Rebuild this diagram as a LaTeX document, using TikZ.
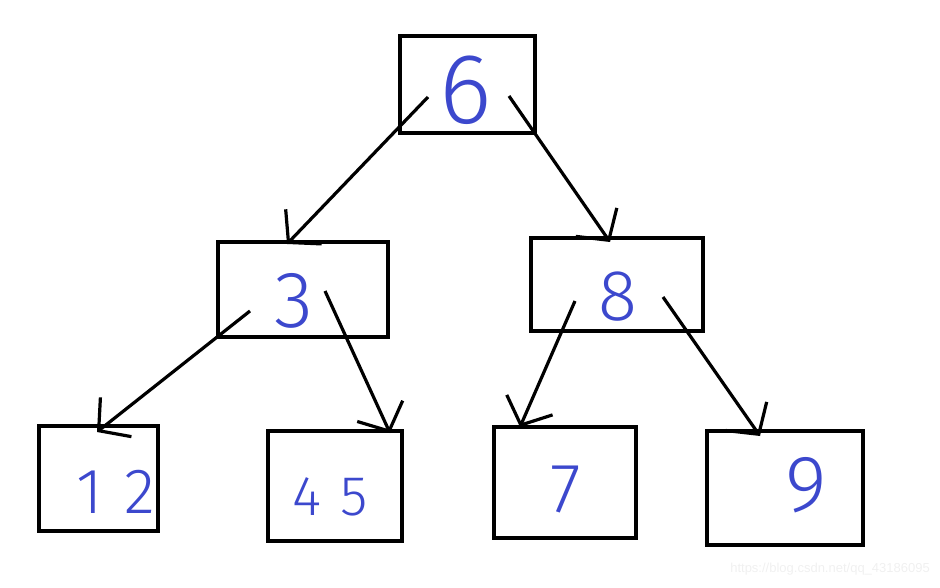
\documentclass[tikz,border=0pt]{standalone}
\usepackage{fontspec}
\setmainfont{Liberation Sans}
\newfontfamily\hand{Fira Sans Light}
\usetikzlibrary{arrows.meta}
\definecolor{ink}{RGB}{60,72,205}
\definecolor{wm}{RGB}{240,240,240}
\tikzset{
  box/.style={draw=black, line width=4pt, rectangle, inner sep=0pt},
  num/.style={text=ink, font=\hand\fontsize{#1}{#1}\selectfont, inner sep=0pt},
  edge/.style={draw=black, line width=3.2pt, -{Straight Barb[length=22pt,width=50pt,line width=3.2pt]}}
}
\begin{document}
\begin{tikzpicture}[x=1pt,y=-1pt]
\useasboundingbox (0,0) rectangle (940,588);
% boxes
\node[box, minimum width=135pt, minimum height=97pt] (n6) at (467.5,84.5) {};
\node[box, minimum width=170pt, minimum height=95pt] (n3) at (303,289.5) {};
\node[box, minimum width=172pt, minimum height=93pt] (n8) at (617,284.5) {};
\node[box, minimum width=119pt, minimum height=105pt] (n12) at (98.5,478.5) {};
\node[box, minimum width=134pt, minimum height=110pt] (n45) at (335,486) {};
\node[box, minimum width=142pt, minimum height=111pt] (n7) at (565,482.5) {};
\node[box, minimum width=156pt, minimum height=114pt] (n9) at (785,488) {};
% numbers
\node[num=100] (t6) at (466,90) {6};
\node[num=80] (t3) at (294,301) {3};
\node[num=72] (t8) at (618,297) {8};
\node[num=64] (t12) at (116,492) {1\,\,2};
\node[num=56] (t45) at (330,497) {4\,\,5};
\node[num=70] (t7) at (566,490) {7};
\node[num=80] (t9) at (806,485) {9};
% arrow ends
\coordinate (s1) at (428,97);  \coordinate (e1) at (287,244);
\coordinate (s2) at (509,96);  \coordinate (e2) at (610,242);
\coordinate (s3) at (250,311); \coordinate (e3) at (97,432);
\coordinate (s4) at (325,291); \coordinate (e4) at (390,433);
\coordinate (s5) at (575,301); \coordinate (e5) at (520,427);
\coordinate (s6) at (663,297); \coordinate (e6) at (760,436);
\draw[edge] (s1) -- (e1);
\draw[edge] (s2) -- (e2);
\draw[edge] (s3) -- (e3);
\draw[edge] (s4) -- (e4);
\draw[edge] (s5) -- (e5);
\draw[edge] (s6) -- (e6);
% watermark
\node[text=wm, font=\fontsize{13}{13}\selectfont, anchor=east, inner sep=0pt] (wmk) at (930,569) {https://blog.csdn.net/qq\_43186095};
\end{tikzpicture}
\end{document}
